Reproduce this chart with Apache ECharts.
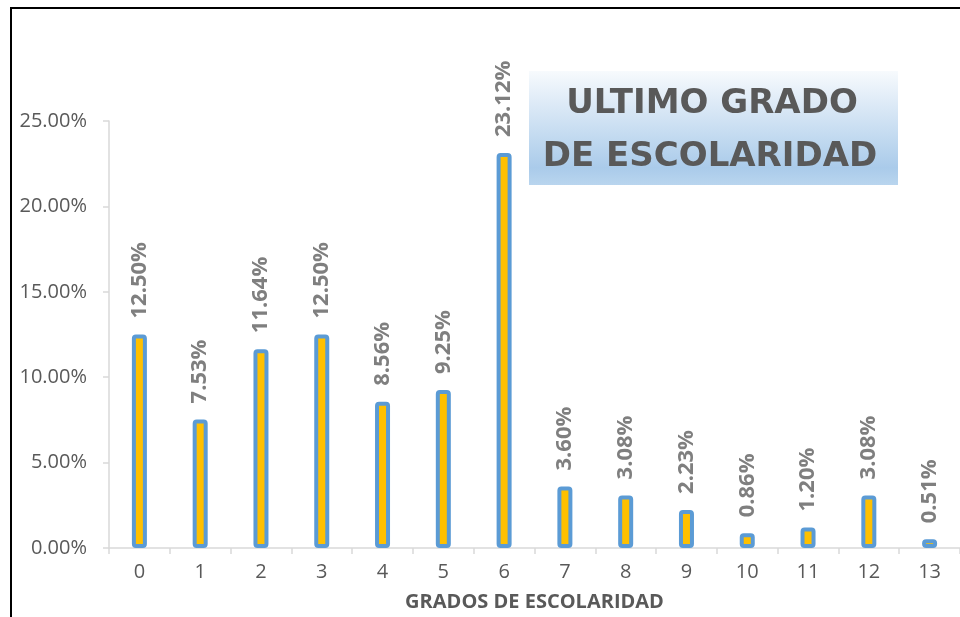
<!DOCTYPE html>
<html>
<head>
<meta charset="utf-8">
<script src="https://cdn.jsdelivr.net/npm/echarts@6/dist/echarts.min.js"></script>
<style>html,body{margin:0;padding:0;background:#fff;}#c{width:960px;height:617px;}</style>
</head>
<body>
<div id="c"></div>
<script>
const categories = ['0','1','2','3','4','5','6','7','8','9','10','11','12','13'];
const values = [12.50, 7.53, 11.64, 12.50, 8.56, 9.25, 23.12, 3.60, 3.08, 2.23, 0.86, 1.20, 3.08, 0.51];
const yTicks = [0, 5, 10, 15, 20, 25];
const titleLines = ['ULTIMO GRADO', 'DE ESCOLARIDAD'];
const xAxisName = 'GRADOS DE ESCOLARIDAD';

const chart = echarts.init(document.getElementById('c'), null, {renderer: 'canvas'});
const font = '"Open Sans", "Noto Sans", sans-serif';
const titleFont = '"DejaVu Sans", sans-serif';
chart.setOption({
  animation: false,
  backgroundColor: '#ffffff',
  grid: {left: 109, right: -11, top: 121, bottom: 68, containLabel: false},
  xAxis: {
    type: 'category',
    data: categories,
    name: xAxisName,
    nameLocation: 'middle',
    nameGap: 44,
    nameTextStyle: {fontFamily: font, fontWeight: 'bold', fontSize: 20, color: '#595959'},
    axisLine: {lineStyle: {color: '#d9d9d9', width: 1.5}},
    axisTick: {show: true, length: 6, lineStyle: {color: '#d9d9d9', width: 1.5}},
    axisLabel: {fontFamily: font, fontSize: 20, color: '#595959', margin: 14}
  },
  yAxis: {
    type: 'value',
    min: yTicks[0],
    max: yTicks[yTicks.length - 1],
    interval: yTicks[1] - yTicks[0],
    axisLine: {show: true, lineStyle: {color: '#d9d9d9', width: 1.5}},
    axisTick: {show: true, length: 6, lineStyle: {color: '#d9d9d9', width: 1.5}},
    splitLine: {show: false},
    axisLabel: {fontFamily: font, fontSize: 20, color: '#595959', margin: 22,
      formatter: v => v.toFixed(2) + '%'}
  },
  series: [{
    type: 'bar',
    data: values,
    barWidth: 15,
    itemStyle: {color: '#FFC000', borderColor: '#5B9BD5', borderWidth: 4, borderRadius: 2},
    label: {
      show: true,
      position: 'top',
      rotate: 90,
      align: 'left',
      verticalAlign: 'middle',
      distance: 16,
      fontFamily: font,
      fontWeight: 'bold',
      fontSize: 22,
      color: '#7f7f7f',
      formatter: p => p.value.toFixed(2) + '%'
    }
  }],
  graphic: [
    {type: 'line', shape: {x1: 11, y1: 8, x2: 11, y2: 617}, style: {stroke: '#000', lineWidth: 2}},
    {type: 'line', shape: {x1: 10, y1: 8, x2: 960, y2: 8}, style: {stroke: '#000', lineWidth: 2}},
    {type: 'rect', shape: {x: 529, y: 71, width: 369, height: 114},
      style: {fill: new echarts.graphic.LinearGradient(0, 0, 0, 1, [
        {offset: 0, color: '#f7fafd'},
        {offset: 0.85, color: '#aacbea'},
        {offset: 1, color: '#b9d5ee'}
      ])}},
    {type: 'text', x: 712, y: 104, style: {text: titleLines[0], font: 'bold 34px ' + titleFont, fill: '#595959', align: 'center', verticalAlign: 'middle'}},
    {type: 'text', x: 710, y: 157, style: {text: titleLines[1], font: 'bold 34px ' + titleFont, fill: '#595959', align: 'center', verticalAlign: 'middle'}}
  ]
});
</script>
</body>
</html>
